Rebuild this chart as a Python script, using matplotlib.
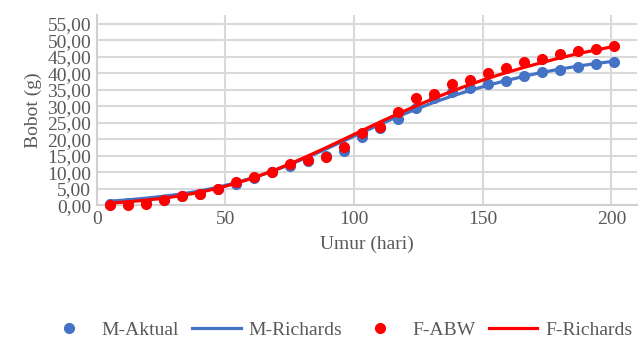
import matplotlib
matplotlib.use('Agg')
from matplotlib import pyplot as plt
from matplotlib.ticker import FuncFormatter

plt.rcParams['font.family'] = ['Liberation Serif', 'DejaVu Serif']

days = [5, 12, 19, 26, 33, 40, 47, 54, 61, 68, 75, 82, 89, 96, 103, 110, 117,
        124, 131, 138, 145, 152, 159, 166, 173, 180, 187, 194, 201]
m_aktual = [0.3, 0.5, 0.8, 1.6, 2.7, 3.5, 5.0, 6.5, 8.3, 10.0, 12.0, 13.3, 15.0,
            16.5, 20.7, 23.3, 26.0, 29.4, 32.5, 34.3, 35.5, 36.7, 37.6, 39.3,
            40.5, 41.1, 42.0, 42.8, 43.4]
m_richards = [1.2, 1.6, 2.1, 2.7, 3.4, 4.3, 5.4, 6.8, 8.4, 10.2, 12.3, 14.6, 17.0,
              19.5, 22.0, 24.5, 26.9, 29.1, 31.2, 33.1, 34.8, 36.4, 37.8, 39.1,
              40.3, 41.3, 42.2, 43.0, 43.7]
f_abw = [0.0, 0.0, 0.3, 1.5, 2.8, 3.3, 5.0, 6.9, 8.6, 10.2, 12.5, 13.7, 14.7,
         17.6, 21.8, 23.6, 28.4, 32.4, 33.8, 36.8, 38.0, 40.1, 41.7, 43.6,
         44.5, 45.8, 46.9, 47.3, 48.4]
f_richards = [0.6, 1.0, 1.5, 2.1, 2.9, 3.9, 5.1, 6.6, 8.3, 10.3, 12.5, 14.9, 17.4,
              20.0, 22.6, 25.2, 27.7, 30.1, 32.4, 34.6, 36.6, 38.5, 40.2, 41.8,
              43.3, 44.7, 46.0, 47.1, 48.2]
yticks = [0, 5, 10, 15, 20, 25, 30, 35, 40, 45, 50, 55]
xticks = [0, 50, 100, 150, 200]

blue = '#4472C4'
red = '#FF0000'
grey = '#595959'

fig = plt.figure(figsize=(6.41, 3.43), dpi=100)
ax = fig.add_axes([0.151, 0.402, 0.843, 0.554])

ax.plot(days, m_aktual, 'o', color=blue, markersize=7, label='M-Aktual', zorder=3, clip_on=False)
ax.plot(days, m_richards, '-', color=blue, lw=2.3, label='M-Richards', zorder=4)
ax.plot(days, f_abw, 'o', color=red, markersize=7, label='F-ABW', zorder=5, clip_on=False)
ax.plot(days, f_richards, '-', color=red, lw=2.3, label='F-Richards', zorder=6)

ax.set_xlim(0, 210)
ax.set_ylim(0, 57.7)
ax.set_xticks(xticks)
ax.set_yticks(yticks)
ax.yaxis.set_major_formatter(FuncFormatter(lambda v, p: ('%.2f' % v).replace('.', ',')))
ax.tick_params(length=0, labelsize=14, colors=grey, pad=4)
ax.grid(True, color='#D9D9D9', lw=1.5)
ax.set_axisbelow(True)
for s in ['top', 'right']:
    ax.spines[s].set_visible(False)
for s in ['left', 'bottom']:
    ax.spines[s].set_color('#D0D0D0')
    ax.spines[s].set_linewidth(1.5)

ax.set_xlabel('Umur (hari)', fontsize=14, color=grey, labelpad=6)
ax.set_ylabel('Bobot (g)', fontsize=14, color=grey, labelpad=4)

leg = fig.legend(loc='center', bbox_to_anchor=(0.528, 0.038), ncol=4, frameon=False,
                 fontsize=14, handlelength=2.5, columnspacing=0.7, handletextpad=0.4)
for t in leg.get_texts():
    t.set_color(grey)

fig.savefig('out.png', dpi=100)
